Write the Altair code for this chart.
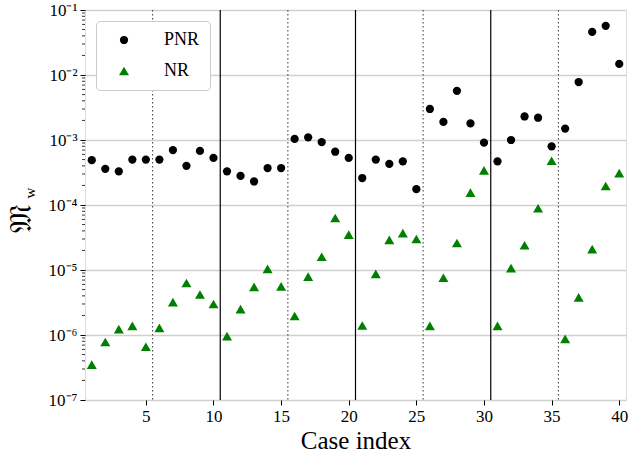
import altair as alt
import pandas as pd

cases = list(range(1, 41))
pnr = [4.9e-4, 3.6e-4, 3.3e-4, 5.0e-4, 5.0e-4, 5.0e-4, 7.0e-4, 4.0e-4, 6.8e-4, 5.3e-4,
       3.3e-4, 2.8e-4, 2.3e-4, 3.7e-4, 3.7e-4, 1.04e-3, 1.1e-3, 9.3e-4, 6.6e-4, 5.3e-4,
       2.6e-4, 5.0e-4, 4.3e-4, 4.7e-4, 1.75e-4, 3.0e-3, 1.9e-3, 5.7e-3, 1.8e-3, 9.1e-4,
       4.7e-4, 1.0e-3, 2.3e-3, 2.2e-3, 8.0e-4, 1.5e-3, 7.8e-3, 4.6e-2, 5.7e-2, 1.48e-2]
nr = [3.5e-7, 7.8e-7, 1.23e-6, 1.38e-6, 6.6e-7, 1.29e-6, 3.2e-6, 6.3e-6, 4.2e-6, 3.0e-6,
      9.6e-7, 2.5e-6, 5.5e-6, 1.04e-5, 5.6e-6, 1.96e-6, 7.9e-6, 1.6e-5, 6.3e-5, 3.5e-5,
      1.4e-6, 8.7e-6, 2.9e-5, 3.7e-5, 3.0e-5, 1.38e-6, 7.6e-6, 2.6e-5, 1.55e-4, 3.4e-4,
      1.38e-6, 1.07e-5, 2.4e-5, 8.9e-5, 4.8e-4, 8.7e-7, 3.8e-6, 2.1e-5, 1.96e-4, 3.1e-4]
methods = ["PNR", "NR"]
x_ticks = [5, 10, 15, 20, 25, 30, 35, 40]
y_ticks = [1e-7, 1e-6, 1e-5, 1e-4, 1e-3, 1e-2, 1e-1]
y_minor = [m * 10.0 ** k for k in range(-7, -1) for m in range(2, 10)]
solid_sep = [10.5, 20.5, 30.5]
dotted_sep = [5.5, 15.5, 25.5, 35.5]

FONT = "Liberation Serif"

df = pd.DataFrame({
    "case": cases * 2,
    "value": pnr + nr,
    "method": ["PNR"] * len(pnr) + ["NR"] * len(nr),
})

xscale = alt.Scale(domain=[0.5, 40.5], nice=False, zero=False)
yscale = alt.Scale(type="log", domain=[1e-7, 1e-1], nice=False)

sup = "['⁰','¹','²','³','⁴','⁵','⁶','⁷','⁸','⁹']"
ylabel = "'10⁻' + " + sup + "[round(-log(datum.value)/LN10)]"

xaxis = alt.Axis(values=x_ticks, title="Case index", grid=False,
                 labelFontSize=17, labelFont=FONT, labelColor="black",
                 tickColor="black", tickSize=5, labelPadding=3,
                 titleFont=FONT, titleFontSize=25, titleFontWeight="normal",
                 titleColor="black", titlePadding=4, domain=False)
yaxis = alt.Axis(values=y_ticks, labelExpr=ylabel, title="", grid=True,
                 gridColor="#d0d0d0", gridWidth=1.4,
                 labelFontSize=17, labelFont=FONT, labelColor="black",
                 tickColor="black", tickSize=5, labelPadding=3, domain=False)

points = alt.Chart(df).mark_point(filled=True, opacity=1, strokeWidth=0).encode(
    x=alt.X("case:Q", scale=xscale, axis=xaxis),
    y=alt.Y("value:Q", scale=yscale, axis=yaxis),
    color=alt.Color("method:N", scale=alt.Scale(domain=methods, range=["black", "green"]),
                    legend=alt.Legend(title=None, orient="top-left", offset=11,
                                      fillColor="white", strokeColor="#cccccc",
                                      cornerRadius=4, padding=10, rowPadding=13,
                                      labelFontSize=18, labelFont=FONT,
                                      labelColor="black",
                                      symbolOffset=9, labelOffset=31)),
    shape=alt.Shape("method:N", scale=alt.Scale(domain=methods, range=["circle", "triangle-up"])),
    size=alt.Size("method:N", scale=alt.Scale(domain=methods, range=[68, 100])),
)

solid = alt.Chart(pd.DataFrame({"case": solid_sep})).mark_rule(
    color="black", strokeWidth=1.2).encode(
    x=alt.X("case:Q", scale=xscale, axis=xaxis))
dotted = alt.Chart(pd.DataFrame({"case": dotted_sep})).mark_rule(
    color="#333333", strokeWidth=1, strokeDash=[1.5, 2.5]).encode(
    x=alt.X("case:Q", scale=xscale, axis=xaxis))

minor = alt.Chart(pd.DataFrame({"value": y_minor})).mark_rule(
    color="black", strokeWidth=0.8).encode(
    y=alt.Y("value:Q", scale=yscale, axis=yaxis),
    x=alt.value(-3), x2=alt.value(0))

title_df = pd.DataFrame({"t": ["𝔐"], "s": ["w"]})
ytitle = alt.Chart(title_df).mark_text(angle=270, fontSize=31, font="DejaVu Serif",
                                       color="black", baseline="middle", align="center").encode(
    text="t:N", x=alt.value(-63), y=alt.value(208))
ysub = alt.Chart(title_df).mark_text(angle=270, fontSize=15, font=FONT,
                                     color="black", baseline="middle", align="center").encode(
    text="s:N", x=alt.value(-55), y=alt.value(183))

chart = alt.layer(dotted, solid, points, minor, ytitle, ysub).properties(
    width=541, height=390,
    padding={"left": 85, "top": 10, "right": 3, "bottom": 61},
    autosize="none",
).configure_view(stroke="black", strokeWidth=1.2).configure(background="white")

chart.save("out.html", embed_options={"renderer": "svg", "actions": False})
